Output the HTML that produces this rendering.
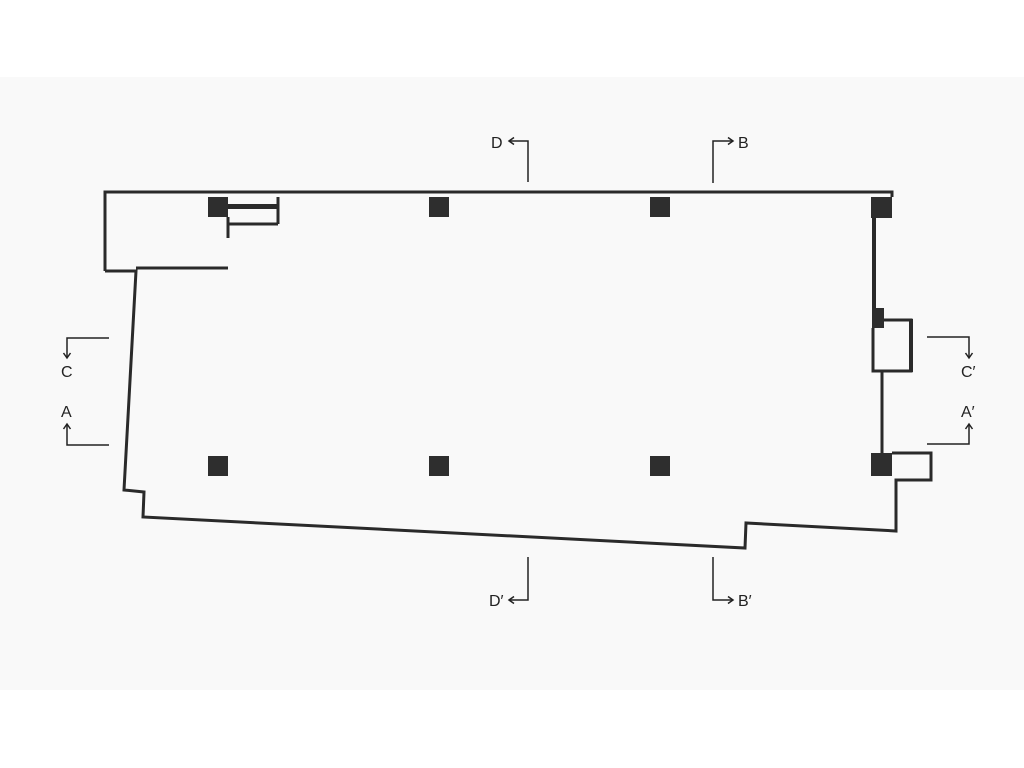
<!DOCTYPE html>
<html><head><style>
html,body{margin:0;padding:0;background:#fff;}
svg{display:block;}
text{font-family:"Liberation Sans",sans-serif;font-size:16px;fill:#222;}
</style></head><body>
<svg width="1024" height="768" viewBox="0 0 1024 768">
<defs>
<marker id="ar" markerWidth="10" markerHeight="10" refX="8" refY="5" orient="auto" markerUnits="userSpaceOnUse">
<path d="M3,1.5 L8,5 L3,8.5" fill="none" stroke="#222" stroke-width="1.5"/></marker>
</defs>
<rect x="0" y="77" width="1024" height="613" fill="#f9f9f9"/>
<g fill="none" stroke="#2a2a2a" stroke-width="3">
<polyline points="105,271 105,192 892,192 892,197"/>
<polyline points="105,271 136,271 124,490 144,492 143,517 745,548 746,523 896,531 896,480 931,480 931,453 892,453"/>
<line x1="136" y1="268" x2="228" y2="268"/>
<line x1="278" y1="197" x2="278" y2="224"/>
<line x1="228" y1="224" x2="278" y2="224"/>
<line x1="228" y1="217" x2="228" y2="238"/>
<line x1="874" y1="218" x2="874" y2="310" stroke-width="4"/>
<polyline points="884,320 911,320 911,371 873,371 873,328" />
<line x1="911" y1="319" x2="911" y2="372" stroke-width="4"/>
<line x1="882" y1="372" x2="882" y2="454"/>
</g>
<rect x="228" y="204" width="50" height="5" fill="#2a2a2a"/>
<g fill="#2e2e2e">
<rect x="208" y="197" width="20" height="20"/>
<rect x="429" y="197" width="20" height="20"/>
<rect x="650" y="197" width="20" height="20"/>
<rect x="871" y="197" width="21" height="21"/>
<rect x="208" y="456" width="20" height="20"/>
<rect x="429" y="456" width="20" height="20"/>
<rect x="650" y="456" width="20" height="20"/>
<rect x="871" y="453" width="21" height="23"/>
<rect x="872" y="308" width="12" height="20"/>
</g>
<g fill="none" stroke="#222" stroke-width="1.5">
<polyline points="528,182 528,141 509,141" marker-end="url(#ar)"/>
<polyline points="713,183 713,141 733,141" marker-end="url(#ar)"/>
<polyline points="109,338 67,338 67,358" marker-end="url(#ar)"/>
<polyline points="109,445 67,445 67,424" marker-end="url(#ar)"/>
<polyline points="927,337 969,337 969,358" marker-end="url(#ar)"/>
<polyline points="927,444 969,444 969,424" marker-end="url(#ar)"/>
<polyline points="528,557 528,600 509,600" marker-end="url(#ar)"/>
<polyline points="713,557 713,600 733,600" marker-end="url(#ar)"/>
</g>
<text x="491" y="148">D</text>
<text x="738" y="148">B</text>
<text x="61" y="377">C</text>
<text x="61" y="417">A</text>
<text x="961" y="377">C′</text>
<text x="961" y="417">A′</text>
<text x="489" y="606">D′</text>
<text x="738" y="606">B′</text>
</svg>
</body></html>
